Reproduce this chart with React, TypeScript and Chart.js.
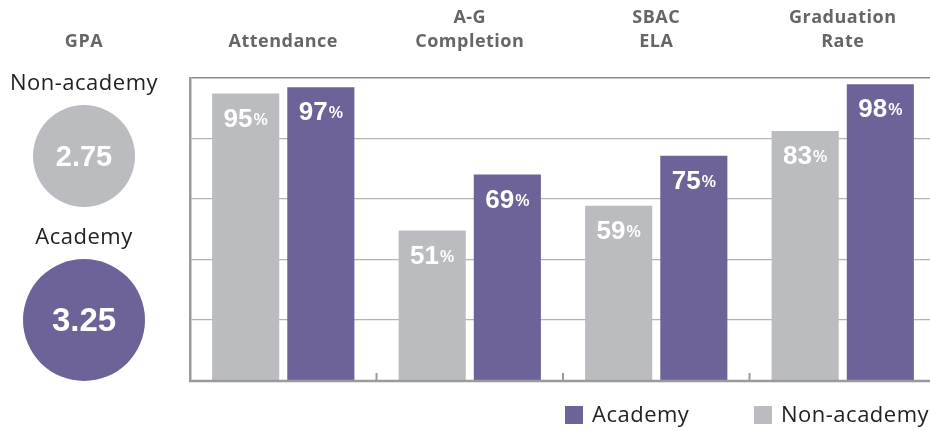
import React, { useEffect, useRef } from "react";
import { Chart, registerables } from "chart.js";
Chart.register(...registerables);

const categories = [["Attendance"], ["A-G", "Completion"], ["SBAC", "ELA"], ["Graduation", "Rate"]];
const nonAcademy = [95, 51, 59, 83];
const academy = [97, 69, 75, 98];
const gpaNonAcademy = "2.75";
const gpaAcademy = "3.25";
const gpaTitle = "GPA";
const legendLabels = ["Academy", "Non-academy"];

const PURPLE = "#6E6399";
const GRAY = "#BBBCC0";
const HEAD = "#666666";

const overlay = {
  id: "overlay",
  beforeDraw(chart: any) {
    (chart.ctx as any).letterSpacing = "0.5px";
  },
  afterDatasetsDraw(chart: any) {
    const ctx = chart.ctx;
    const xs = chart.scales.x;
    const area = chart.chartArea;
    ctx.save();
    (ctx as any).letterSpacing = "0px";
    // bottom axis line
    ctx.strokeStyle = "#9a9a9a";
    ctx.lineWidth = 2.5;
    ctx.beginPath();
    ctx.moveTo(area.left - 1, area.bottom + 1);
    ctx.lineTo(area.right, area.bottom + 1);
    ctx.stroke();
    // category boundary ticks
    ctx.lineWidth = 2;
    for (let i = 1; i < categories.length; i++) {
      const x = (xs.getPixelForValue(i - 1) + xs.getPixelForValue(i)) / 2;
      ctx.beginPath();
      ctx.moveTo(x, area.bottom);
      ctx.lineTo(x, area.bottom - 7);
      ctx.stroke();
    }
    // data labels
    ctx.fillStyle = "#ffffff";
    ctx.textBaseline = "alphabetic";
    chart.data.datasets.forEach((ds: any, di: number) => {
      const meta = chart.getDatasetMeta(di);
      meta.data.forEach((bar: any, i: number) => {
        const num = String(ds.data[i]);
        ctx.font = "bold 26px 'Liberation Sans', Arial, sans-serif";
        const w1 = ctx.measureText(num).width;
        ctx.font = "bold 16px 'Liberation Sans', Arial, sans-serif";
        const w2 = ctx.measureText("%").width;
        const gap = 1;
        const start = bar.x - (w1 + gap + w2) / 2;
        const base = bar.y + 33;
        ctx.textAlign = "left";
        ctx.font = "bold 26px 'Liberation Sans', Arial, sans-serif";
        ctx.fillText(num, start, base);
        ctx.font = "bold 16px 'Liberation Sans', Arial, sans-serif";
        ctx.fillText("%", start + w1 + gap, base - 2);
      });
    });
    ctx.restore();
  },
  afterDraw(chart: any) {
    const ctx = chart.ctx;
    ctx.save();
    ctx.textAlign = "center";
    ctx.textBaseline = "middle";
    // GPA header
    (ctx as any).letterSpacing = "0.5px";
    ctx.fillStyle = HEAD;
    ctx.font = "bold 18px 'Open Sans', sans-serif";
    ctx.fillText(gpaTitle, 84, 42);
    // labels
    (ctx as any).letterSpacing = "0.5px";
    ctx.fillStyle = "#222222";
    ctx.font = "22px 'Open Sans', sans-serif";
    ctx.fillText(legendLabels[1], 84, 84);
    ctx.fillText(legendLabels[0], 84, 238);
    // circles
    ctx.fillStyle = GRAY;
    ctx.beginPath();
    ctx.arc(84, 156, 51, 0, Math.PI * 2);
    ctx.fill();
    ctx.fillStyle = PURPLE;
    ctx.beginPath();
    ctx.arc(84, 320, 61, 0, Math.PI * 2);
    ctx.fill();
    (ctx as any).letterSpacing = "0px";
    ctx.fillStyle = "#ffffff";
    ctx.font = "bold 29px 'Liberation Sans', Arial, sans-serif";
    ctx.fillText(gpaNonAcademy, 84, 158);
    ctx.font = "bold 33px 'Liberation Sans', Arial, sans-serif";
    ctx.fillText(gpaAcademy, 84, 322);
    // legend
    ctx.textAlign = "left";
    (ctx as any).letterSpacing = "0.5px";
    ctx.font = "22px 'Open Sans', sans-serif";
    const items = [
      { label: legendLabels[0], color: PURPLE, x: 565 },
      { label: legendLabels[1], color: GRAY, x: 754 },
    ];
    items.forEach((it) => {
      ctx.fillStyle = it.color;
      ctx.fillRect(it.x, 406, 18, 18);
      ctx.fillStyle = "#222222";
      ctx.fillText(it.label, it.x + 27, 416);
    });
    ctx.restore();
  },
};

export default function App() {
  const ref = useRef<HTMLCanvasElement | null>(null);
  useEffect(() => {
    if (!ref.current) return;
    const chart = new Chart(ref.current, {
      type: "bar",
      data: {
        labels: categories as any,
        datasets: [
          { label: "Non-academy", data: nonAcademy, backgroundColor: GRAY, categoryPercentage: 0.806, barPercentage: 0.893 },
          { label: "Academy", data: academy, backgroundColor: PURPLE, categoryPercentage: 0.806, barPercentage: 0.893 },
        ],
      },
      options: {
        animation: false,
        responsive: false,
        maintainAspectRatio: false,
        layout: { padding: { left: 190, right: 0, top: 0, bottom: 51 } },
        plugins: { legend: { display: false }, tooltip: { enabled: false } },
        scales: {
          x: {
            position: "top",
            grid: { display: false, drawTicks: false },
            border: { display: false },
            ticks: {
              autoSkip: false,
              maxRotation: 0,
              padding: 24,
              color: HEAD,
              font: { family: "'Open Sans', sans-serif", size: 18, weight: "bold", lineHeight: 1.33 },
            },
            afterFit: (s: any) => {
              s.height = 78;
            },
          },
          y: {
            min: 3,
            max: 100,
            ticks: { display: false, count: 6 },
            grid: {
              drawTicks: false,
              color: (c: any) => (c.index === 0 ? "rgba(0,0,0,0)" : c.index === 5 ? "#8a8a8a" : "#b4b4b4"),
              lineWidth: (c: any) => (c.index === 5 ? 1.5 : 1.2),
            },
            border: { display: true, color: "#9a9a9a", width: 2.5 },
            afterFit: (s: any) => {
              s.width = 0;
            },
          },
        },
      } as any,
      plugins: [overlay],
    });
    return () => chart.destroy();
  }, []);
  return (
    <div style={{ position: "absolute", left: 0, top: 0, width: 930, height: 431, overflow: "hidden", background: "#fff" }}>
      <canvas ref={ref} width={936} height={431} style={{ width: 936, height: 431, display: "block" }} />
    </div>
  );
}
